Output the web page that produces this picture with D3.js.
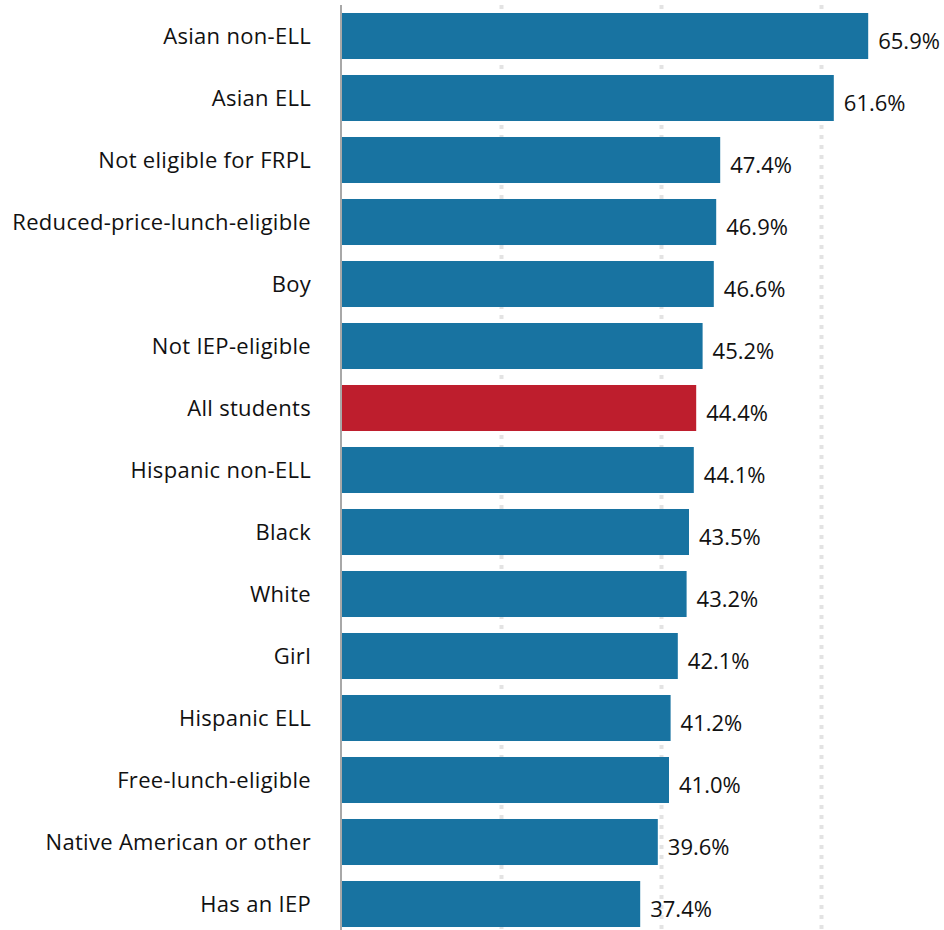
<!DOCTYPE html>
<meta charset="utf-8">
<script src="https://d3js.org/d3.v7.min.js"></script>
<style>
  body { margin: 0; background: #fff; }
  text { font-family: "Open Sans", Lato, sans-serif; fill: #111; }
</style>
<div id="my_dataviz"></div>
<script>
// categories and values (percent), top to bottom
var groups = ["Asian non-ELL", "Asian ELL", "Not eligible for FRPL", "Reduced-price-lunch-eligible",
  "Boy", "Not IEP-eligible", "All students", "Hispanic non-ELL", "Black", "White", "Girl",
  "Hispanic ELL", "Free-lunch-eligible", "Native American or other", "Has an IEP"];
var values = [65.9, 61.6, 47.4, 46.9, 46.6, 45.2, 44.4, 44.1, 43.5, 43.2, 42.1, 41.2, 41.0, 39.6, 37.4];
var highlight = "All students";
var gridTicks = [20, 40, 60];

var width = 944, height = 930;
var svg = d3.select("#my_dataviz")
  .append("svg")
    .attr("width", width)
    .attr("height", height);

var x = d3.scaleLinear()
  .domain([0, 70])
  .range([341, 901]);

var y = d3.scaleBand()
  .domain(groups)
  .range([5, 935])
  .paddingInner(0.258)
  .paddingOuter(0.129);

// dotted gridlines
svg.selectAll("grid")
  .data(gridTicks)
  .enter()
  .append("line")
    .attr("x1", function(d){ return x(d) + 0.5 })
    .attr("x2", function(d){ return x(d) + 0.5 })
    .attr("y1", 5)
    .attr("y2", height)
    .attr("stroke", "#e3e3e3")
    .attr("stroke-width", 4)
    .attr("stroke-dasharray", "4,6");

// bars
svg.selectAll("bars")
  .data(groups)
  .enter()
  .append("rect")
    .attr("x", x(0))
    .attr("y", function(d){ return y(d) })
    .attr("width", function(d, i){ return x(values[i]) - x(0) })
    .attr("height", y.bandwidth())
    .attr("fill", function(d){ return d == highlight ? "#be1e2d" : "#1873a1" });

// baseline
svg.append("line")
  .attr("x1", x(0)).attr("x2", x(0))
  .attr("y1", 5).attr("y2", height)
  .attr("stroke", "#a8a8a8")
  .attr("stroke-width", 2);

// category labels
svg.selectAll("cats")
  .data(groups)
  .enter()
  .append("text")
    .attr("x", x(0) - 30)
    .attr("y", function(d){ return y(d) + y.bandwidth()/2 })
    .attr("dy", "0.36em")
    .attr("text-anchor", "end")
    .style("font-size", "22px")
    .style("letter-spacing", "0.3px")
    .text(function(d){ return d });

// value labels
svg.selectAll("vals")
  .data(groups)
  .enter()
  .append("text")
    .attr("x", function(d, i){ return x(values[i]) + 10 })
    .attr("y", function(d){ return y(d) + y.bandwidth()/2 + 13 })
    .style("font-size", "22px")
    .text(function(d, i){ return values[i].toFixed(1) + "%" });
</script>
